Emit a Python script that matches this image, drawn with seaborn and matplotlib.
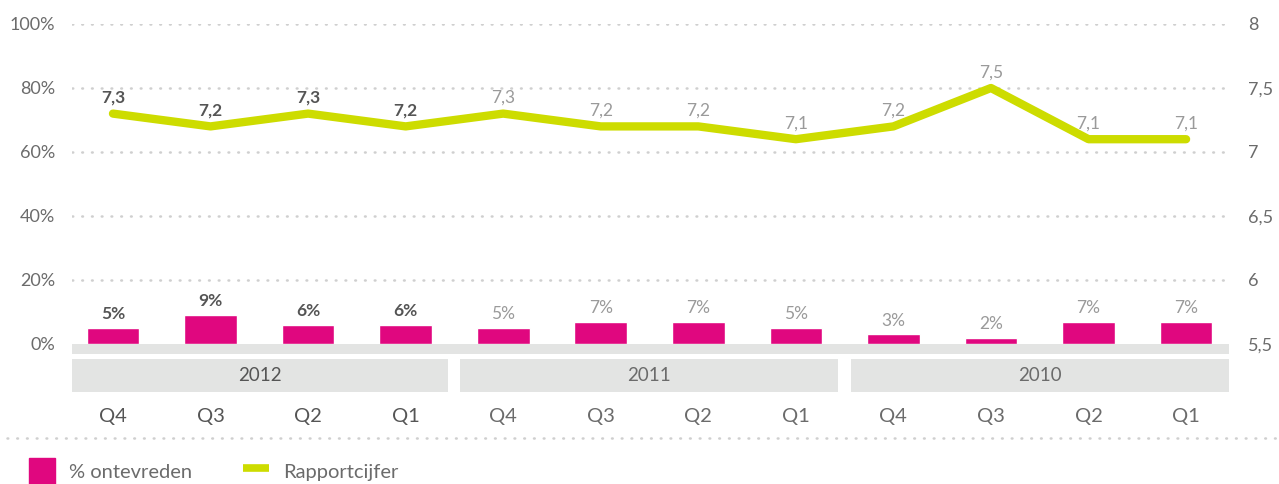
import matplotlib
matplotlib.use("Agg")
import matplotlib.pyplot as plt
from matplotlib.patches import Rectangle, Patch
from matplotlib.lines import Line2D
import seaborn as sns
import pandas as pd

years = ["2012", "2012", "2012", "2012", "2011", "2011", "2011", "2011", "2010", "2010", "2010", "2010"]
quarters = ["Q4", "Q3", "Q2", "Q1", "Q4", "Q3", "Q2", "Q1", "Q4", "Q3", "Q2", "Q1"]
ontevreden = [5, 9, 6, 6, 5, 7, 7, 5, 3, 2, 7, 7]
rapportcijfer = [7.3, 7.2, 7.3, 7.2, 7.3, 7.2, 7.2, 7.1, 7.2, 7.5, 7.1, 7.1]
year_labels = ["2012", "2011", "2010"]

PINK = "#e0077f"
GREEN = "#cddc00"
AXIS_GREY = "#6b6b6b"
DARK = "#555555"
LIGHT = "#9a9a9a"
BAND = "#e3e4e3"

sns.set_theme(style="white")
plt.rcParams["font.family"] = ["Lato", "DejaVu Sans"]

periods = [f"{y} {q}" for y, q in zip(years, quarters)]
df = pd.DataFrame({"period": periods, "year": years, "q": quarters,
                   "ontevreden": ontevreden, "rapport": rapportcijfer})

fig = plt.figure(figsize=(12.79, 4.84), dpi=100)
W, H = 1279, 484
ax = fig.add_axes([72 / W, 1 - 344 / H, (1229 - 72) / W, 320 / H])

sns.barplot(data=df, x="period", y="ontevreden", order=periods, color=PINK,
            width=0.54, saturation=1, ax=ax, zorder=3)
ax.set_ylim(0, 100)
ax.set_xlim(-0.42, 11.44)
ax.set_xlabel("")
ax.set_ylabel("")
ax.set_yticks([0, 20, 40, 60, 80, 100])
ax.set_yticklabels([f"{v}%" for v in [0, 20, 40, 60, 80, 100]])
for v in [20, 40, 60, 80, 100]:
    ax.axhline(v, color="#cfcfcf", lw=1.8, ls=(0, (0.3, 3.6)), zorder=1,
               dash_capstyle="round")
for s in ax.spines.values():
    s.set_visible(False)
ax.tick_params(axis="y", length=0, pad=12, labelsize=13, labelcolor=AXIS_GREY)
ax.tick_params(axis="x", length=0, pad=46, labelsize=14.5)
ax.set_xticks(range(len(periods)))
ax.set_xticklabels(quarters)
for i, lab in enumerate(ax.get_xticklabels()):
    lab.set_color(DARK if years[i] == "2012" else AXIS_GREY)

# bar value labels
for i, v in enumerate(ontevreden):
    bold = years[i] == "2012"
    ax.text(i, v + 1.8, f"{v}%", ha="center", va="bottom", fontsize=12.5,
            color=DARK if bold else LIGHT, fontweight="bold" if bold else "normal")

# band strip and year boxes
tr = ax.get_xaxis_transform()
ax.add_patch(Rectangle((-0.42, -10 / 320), 11.86, 10 / 320, transform=tr,
                       color=BAND, clip_on=False, zorder=2, lw=0))
x0, x1 = ax.get_xlim()
px = (x1 - x0) / (1229 - 72)
box_edges = [(72, 448), (460, 838), (851, 1229)]
for (a, b), yl in zip(box_edges, year_labels):
    xa = x0 + (a - 72) * px
    xb = x0 + (b - 72) * px
    ax.add_patch(Rectangle((xa, -48 / 320), xb - xa, 33 / 320, transform=tr,
                           color=BAND, clip_on=False, zorder=2, lw=0))
    ax.text((xa + xb) / 2, -31.5 / 320, yl, transform=tr, ha="center", va="center",
            fontsize=13.5, color=DARK if yl == "2012" else AXIS_GREY)

# line on twin axis
ax2 = ax.twinx()
sns.lineplot(data=df, x="period", y="rapport", color=GREEN, lw=6, ax=ax2,
             sort=False, zorder=4)
ax2.set_ylim(5.5, 8)
ax2.set_xlim(-0.42, 11.44)
ax2.set_ylabel("")
ax2.set_xlabel("")
ax2.set_yticks([5.5, 6, 6.5, 7, 7.5, 8])
ax2.set_yticklabels(["5,5", "6", "6,5", "7", "7,5", "8"])
ax2.tick_params(axis="y", length=0, pad=14, labelsize=13, labelcolor=AXIS_GREY)
ax2.tick_params(axis="x", length=0, labelbottom=False)
for s in ax2.spines.values():
    s.set_visible(False)
for i, v in enumerate(rapportcijfer):
    bold = years[i] == "2012"
    ax2.text(i, v + 0.06, f"{v:.1f}".replace(".", ","), ha="center", va="bottom",
             fontsize=12.5, color=DARK if bold else LIGHT,
             fontweight="bold" if bold else "normal")

# separator dotted line
fig.add_artist(Line2D([7 / W, 1], [1 - 438 / H, 1 - 438 / H], transform=fig.transFigure,
                      color="#cfcfcf", lw=1.8, ls=(0, (0.3, 3.6)), dash_capstyle="round"))

# legend
handles = [Patch(color=PINK), Line2D([0], [0], color=GREEN, lw=5.5, solid_capstyle="butt")]
fig.legend(handles, ["% ontevreden", "Rapportcijfer"], loc="lower left",
           bbox_to_anchor=(11 / W, -18 / H), ncol=2, frameon=False, fontsize=14.5,
           handlelength=1.3, handleheight=1.6, handletextpad=0.7,
           columnspacing=2.5, labelcolor=AXIS_GREY)

fig.savefig("out.png", dpi=100)
